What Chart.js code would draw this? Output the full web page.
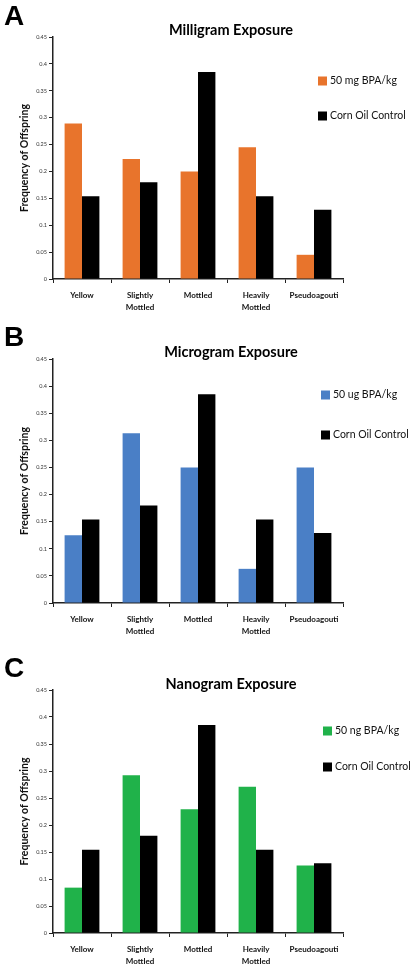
<!DOCTYPE html>
<html>
<head>
<meta charset="utf-8">
<script src="https://cdn.jsdelivr.net/npm/chart.js@4"></script>
<style>
  body { margin: 0; background: #fff; width: 416px; height: 967px; overflow: hidden; position: relative; }
  canvas { position: absolute; left: 0; }
</style>
</head>
<body>
<canvas id="chartA" width="416" height="320" style="top:0px"></canvas>
<canvas id="chartB" width="416" height="320" style="top:320px"></canvas>
<canvas id="chartC" width="416" height="327" style="top:640px"></canvas>
<script>
// data
const categories = ['Yellow', ['Slightly', 'Mottled'], 'Mottled', ['Heavily', 'Mottled'], 'Pseudoagouti'];
const yTickLabels = ['0', '0.05', '0.1', '0.15', '0.2', '0.25', '0.3', '0.35', '0.4', '0.45'];
const milligramValues = [0.289, 0.223, 0.200, 0.245, 0.045];
const microgramValues = [0.125, 0.313, 0.250, 0.063, 0.250];
const nanogramValues = [0.084, 0.292, 0.229, 0.271, 0.125];
const controlValues = [0.154, 0.180, 0.385, 0.154, 0.129];

// draws panel letter, title and the legend inside the plot
const panelDecor = {
  id: 'panelDecor',
  afterDraw(chart, args, opts) {
    const ctx = chart.ctx;
    ctx.save();
    ctx.textBaseline = 'middle';
    ctx.fillStyle = '#000';
    ctx.font = 'bold 28px "Liberation Sans"';
    ctx.textAlign = 'left';
    ctx.fillText(opts.letter, 4, opts.letterY);
    ctx.font = 'bold 14.5px Lato';
    ctx.textAlign = 'center';
    ctx.fillText(opts.title, 231, opts.titleY);
    ctx.textAlign = 'left';
    ctx.font = '10.5px Lato';
    chart.data.datasets.forEach((ds, i) => {
      const y = opts.legendY[i];
      ctx.fillStyle = ds.backgroundColor;
      ctx.fillRect(opts.legendX, y - 4.5, 9, 9);
      ctx.fillStyle = '#111';
      ctx.fillText(ds.label, opts.legendX + 12, y);
    });
    ctx.restore();
  }
};

function makeChart(id, cfg) {
  const ctx = document.getElementById(id).getContext('2d');
  return new Chart(ctx, {
    type: 'bar',
    data: {
      labels: categories,
      datasets: [
        { label: cfg.label, data: cfg.values, backgroundColor: cfg.color, barPercentage: 1, categoryPercentage: 0.6 },
        { label: 'Corn Oil Control', data: controlValues, backgroundColor: '#000', barPercentage: 1, categoryPercentage: 0.6 }
      ]
    },
    plugins: [panelDecor],
    options: {
      responsive: false,
      animation: false,
      layout: { padding: { top: cfg.top, right: 73, left: 0, bottom: 0 } },
      plugins: {
        legend: { display: false },
        tooltip: { enabled: false },
        panelDecor: cfg.decor
      },
      scales: {
        x: {
          grid: { display: true, drawOnChartArea: false, offset: true, tickLength: 4, color: '#222' },
          border: { display: true, color: '#222', width: 1.5 },
          ticks: {
            font: { family: 'Lato', weight: 'bold', size: 8, lineHeight: 1.45 },
            color: '#111', padding: 7, maxRotation: 0, autoSkip: false
          },
          afterFit: s => { s.height = cfg.height - cfg.bottom; }
        },
        y: {
          min: 0,
          max: 0.45,
          ticks: {
            stepSize: 0.05,
            font: { family: 'Lato', size: 5.5 },
            color: '#333',
            padding: 2,
            callback: (v, i) => yTickLabels[i]
          },
          grid: { drawOnChartArea: false, tickLength: 4, color: '#222' },
          border: { color: '#222', width: 1.5 },
          title: {
            display: true,
            text: 'Frequency of Offspring',
            font: { family: 'Lato', weight: 'bold', size: 10.5 },
            color: '#111',
            padding: { top: 18, bottom: 0 }
          },
          afterFit: s => { s.width = 53; }
        }
      }
    }
  });
}

document.addEventListener('DOMContentLoaded', function () {
  makeChart('chartA', {
    label: '50 mg BPA/kg', values: milligramValues, color: '#E8742C',
    height: 320, top: 37, bottom: 279,
    decor: { letter: 'A', letterY: 17, title: 'Milligram Exposure', titleY: 30, legendX: 318, legendY: [81, 116] }
  });
  makeChart('chartB', {
    label: '50 ug BPA/kg', values: microgramValues, color: '#4A7FC6',
    height: 320, top: 39, bottom: 283,
    decor: { letter: 'B', letterY: 18, title: 'Microgram Exposure', titleY: 32, legendX: 321, legendY: [75, 115] }
  });
  makeChart('chartC', {
    label: '50 ng BPA/kg', values: nanogramValues, color: '#20B24A',
    height: 327, top: 50, bottom: 293,
    decor: { letter: 'C', letterY: 29, title: 'Nanogram Exposure', titleY: 44, legendX: 323, legendY: [91, 127] }
  });
});
</script>
</body>
</html>
